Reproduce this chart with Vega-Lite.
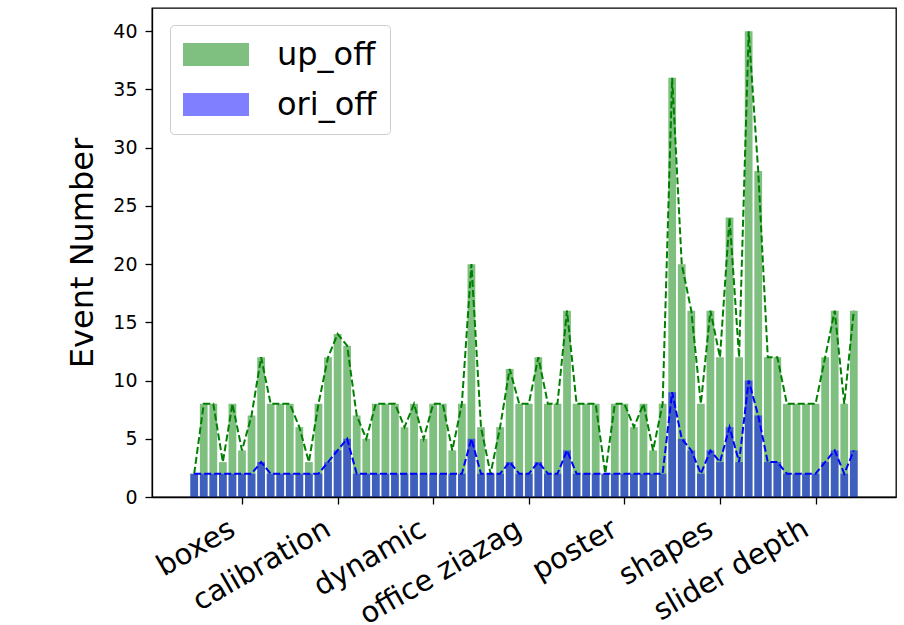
{
  "$schema": "https://vega.github.io/schema/vega-lite/v6.json",
  "width": 744,
  "height": 489,
  "autosize": {"type": "none"},
  "padding": {"left": 152, "top": 8, "right": 8, "bottom": 128},
  "config": {
    "font": "DejaVu Sans",
    "view": {"stroke": "black", "strokeWidth": 1.3},
    "axis": {
      "grid": false,
      "domainColor": "black",
      "domainWidth": 1.3,
      "tickColor": "black",
      "tickWidth": 1.3,
      "tickSize": 7,
      "labelColor": "black",
      "titleColor": "black",
      "titleFontWeight": "normal"
    }
  },
  "data": {
    "values": [
      {"i": 0, "up_off": 2, "ori_off": 2},
      {"i": 1, "up_off": 8, "ori_off": 2},
      {"i": 2, "up_off": 8, "ori_off": 2},
      {"i": 3, "up_off": 3, "ori_off": 2},
      {"i": 4, "up_off": 8, "ori_off": 2},
      {"i": 5, "up_off": 4, "ori_off": 2},
      {"i": 6, "up_off": 7, "ori_off": 2},
      {"i": 7, "up_off": 12, "ori_off": 3},
      {"i": 8, "up_off": 8, "ori_off": 2},
      {"i": 9, "up_off": 8, "ori_off": 2},
      {"i": 10, "up_off": 8, "ori_off": 2},
      {"i": 11, "up_off": 6, "ori_off": 2},
      {"i": 12, "up_off": 3, "ori_off": 2},
      {"i": 13, "up_off": 8, "ori_off": 2},
      {"i": 14, "up_off": 12, "ori_off": 3},
      {"i": 15, "up_off": 14, "ori_off": 4},
      {"i": 16, "up_off": 13, "ori_off": 5},
      {"i": 17, "up_off": 7, "ori_off": 2},
      {"i": 18, "up_off": 5, "ori_off": 2},
      {"i": 19, "up_off": 8, "ori_off": 2},
      {"i": 20, "up_off": 8, "ori_off": 2},
      {"i": 21, "up_off": 8, "ori_off": 2},
      {"i": 22, "up_off": 6, "ori_off": 2},
      {"i": 23, "up_off": 8, "ori_off": 2},
      {"i": 24, "up_off": 5, "ori_off": 2},
      {"i": 25, "up_off": 8, "ori_off": 2},
      {"i": 26, "up_off": 8, "ori_off": 2},
      {"i": 27, "up_off": 4, "ori_off": 2},
      {"i": 28, "up_off": 8, "ori_off": 2},
      {"i": 29, "up_off": 20, "ori_off": 5},
      {"i": 30, "up_off": 6, "ori_off": 2},
      {"i": 31, "up_off": 2, "ori_off": 2},
      {"i": 32, "up_off": 6, "ori_off": 2},
      {"i": 33, "up_off": 11, "ori_off": 3},
      {"i": 34, "up_off": 8, "ori_off": 2},
      {"i": 35, "up_off": 8, "ori_off": 2},
      {"i": 36, "up_off": 12, "ori_off": 3},
      {"i": 37, "up_off": 8, "ori_off": 2},
      {"i": 38, "up_off": 8, "ori_off": 2},
      {"i": 39, "up_off": 16, "ori_off": 4},
      {"i": 40, "up_off": 8, "ori_off": 2},
      {"i": 41, "up_off": 8, "ori_off": 2},
      {"i": 42, "up_off": 8, "ori_off": 2},
      {"i": 43, "up_off": 2, "ori_off": 2},
      {"i": 44, "up_off": 8, "ori_off": 2},
      {"i": 45, "up_off": 8, "ori_off": 2},
      {"i": 46, "up_off": 6, "ori_off": 2},
      {"i": 47, "up_off": 8, "ori_off": 2},
      {"i": 48, "up_off": 4, "ori_off": 2},
      {"i": 49, "up_off": 8, "ori_off": 2},
      {"i": 50, "up_off": 36, "ori_off": 9},
      {"i": 51, "up_off": 20, "ori_off": 5},
      {"i": 52, "up_off": 16, "ori_off": 4},
      {"i": 53, "up_off": 8, "ori_off": 2},
      {"i": 54, "up_off": 16, "ori_off": 4},
      {"i": 55, "up_off": 12, "ori_off": 3},
      {"i": 56, "up_off": 24, "ori_off": 6},
      {"i": 57, "up_off": 12, "ori_off": 3},
      {"i": 58, "up_off": 40, "ori_off": 10},
      {"i": 59, "up_off": 28, "ori_off": 7},
      {"i": 60, "up_off": 12, "ori_off": 3},
      {"i": 61, "up_off": 12, "ori_off": 3},
      {"i": 62, "up_off": 8, "ori_off": 2},
      {"i": 63, "up_off": 8, "ori_off": 2},
      {"i": 64, "up_off": 8, "ori_off": 2},
      {"i": 65, "up_off": 8, "ori_off": 2},
      {"i": 66, "up_off": 12, "ori_off": 3},
      {"i": 67, "up_off": 16, "ori_off": 4},
      {"i": 68, "up_off": 8, "ori_off": 2},
      {"i": 69, "up_off": 16, "ori_off": 4}
    ]
  },
  "encoding": {
    "x": {
      "field": "i",
      "type": "quantitative",
      "title": null,
      "scale": {"domain": [-3.89, 72.89], "nice": false, "zero": false},
      "axis": {
        "values": [5, 15, 25, 35, 45, 55, 65],
        "labelExpr": "['boxes','calibration','dynamic','office ziazag','poster','shapes','slider depth'][(datum.value - 5) / 10]",
        "labelFontSize": 29,
        "labelAngle": -30,
        "labelAlign": "right",
        "labelBaseline": "top",
        "labelOffset": -17,
        "labelPadding": 10,
        "labelLimit": 0,
        "labelOverlap": false,
        "labelBound": false,
        "labelFlush": false
      }
    }
  },
  "layer": [
    {
      "mark": {"type": "bar", "size": 7.75, "opacity": 0.5},
      "encoding": {
        "y": {
          "field": "up_off",
          "type": "quantitative",
          "title": "Event Number",
          "scale": {"domain": [0, 42], "nice": false},
          "axis": {
            "values": [0, 5, 10, 15, 20, 25, 30, 35, 40],
            "labelFontSize": 19,
            "labelPadding": 8,
            "titleFontSize": 32,
            "titlePadding": 13
          }
        },
        "color": {
          "datum": "up_off",
          "type": "nominal",
          "scale": {"domain": ["up_off", "ori_off"], "range": ["#008000", "#0000ff"]},
          "legend": {
            "title": null,
            "orient": "none",
            "legendX": 18,
            "legendY": 17,
            "padding": 13,
            "fillColor": "white",
            "strokeColor": "#cccccc",
            "cornerRadius": 4,
            "labelFontSize": 32,
            "labelColor": "black",
            "labelOffset": 44.5,
            "rowPadding": 17,
            "symbolType": "M-2,-0.7H2V0.7H-2Z",
            "symbolSize": 1089,
            "symbolOffset": 16.5,
            "symbolOpacity": 0.5,
            "symbolStrokeWidth": 0
          }
        }
      }
    },
    {
      "mark": {"type": "bar", "size": 7.75, "opacity": 0.5},
      "encoding": {
        "y": {"field": "ori_off", "type": "quantitative", "title": "Event Number"},
        "color": {"datum": "ori_off", "type": "nominal"}
      }
    },
    {
      "mark": {"type": "line", "color": "#008000", "strokeWidth": 2, "strokeDash": [7, 3]},
      "encoding": {
        "y": {"field": "up_off", "type": "quantitative", "title": "Event Number"}
      }
    },
    {
      "mark": {"type": "line", "color": "#0000ff", "strokeWidth": 2, "strokeDash": [7, 3]},
      "encoding": {
        "y": {"field": "ori_off", "type": "quantitative", "title": "Event Number"}
      }
    }
  ]
}
